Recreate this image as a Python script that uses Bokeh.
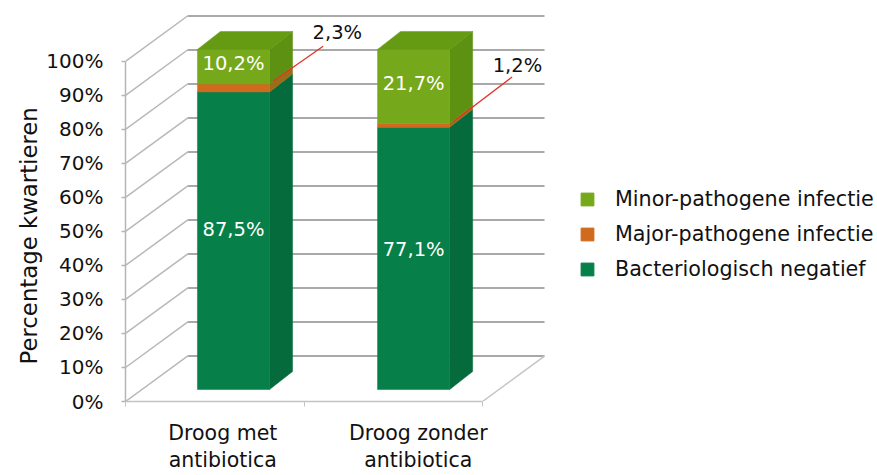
from bokeh.embed import file_html
from bokeh.resources import INLINE
from bokeh.plotting import figure
from bokeh.models import ColumnDataSource, FixedTicker, Legend, LegendItem, Range1d, Title
from bokeh.core.properties import value

FONT = "DejaVu Sans"
categories = ["Droog met\nantibiotica", "Droog zonder\nantibiotica"]
negatief = [87.5, 77.1]
major = [2.3, 1.2]
minor = [10.2, 21.7]
y_ticks = list(range(0, 101, 10))
series_names = ["Minor-pathogene infectie", "Major-pathogene infectie", "Bacteriologisch negatief"]
y_title = "Percentage kwartieren"

FRONT = {"neg": "#067f49", "maj": "#d06a1e", "min": "#75a81b"}
SIDE = {"neg": "#056b3c", "maj": "#9a6e16", "min": "#5c9112"}
TOP = "#659b13"
GRID = "#a9a9a9"

PX_X, PX_Y = 178.5, 3.41
LEFT, TOP_PX, BOTTOM = 125, 10, 402
W, H = 877, 475
DX, DY = 62 / PX_X, 45.5 / PX_Y
BAR_X = [0.403, 1.412]
BAR_W = 0.404
BAR_DX, BAR_DY = 23 / PX_X, 18 / PX_Y
BASE = 12 / PX_Y

p = figure(width=W, height=H, output_backend="svg", toolbar_location=None,
           x_range=Range1d(0, (W - LEFT) / PX_X), y_range=Range1d(0, (BOTTOM - TOP_PX) / PX_Y),
           min_border_left=LEFT, min_border_right=0, min_border_top=TOP_PX,
           min_border_bottom=H - BOTTOM, outline_line_color=None, background_fill_color="#ffffff")
p.grid.visible = False

# y axis
ya = p.yaxis[0]
ya.bounds = (0, 100)
ya.ticker = FixedTicker(ticks=y_ticks)
ya.major_label_overrides = {t: f"{t}%" for t in y_ticks}
ya.axis_line_color = "#b5b5b5"; ya.major_tick_line_color = "#b5b5b5"
ya.axis_line_width = 1.5; ya.major_tick_line_width = 1.5
ya.major_tick_in = 0; ya.major_tick_out = 4; ya.minor_tick_out = 0; ya.minor_tick_in = 0
ya.major_label_text_font = FONT; ya.major_label_text_font_size = "20px"
ya.major_label_text_color = "#111111"; ya.major_label_standoff = 18

# y title placed along the lower part of the axis, as in the reference
p.add_layout(Title(text=y_title, align="left", offset=37, standoff=4, text_font=FONT,
                   text_font_size="22.8px", text_font_style="normal", text_color="#111111"), "left")

# x axis
xa = p.xaxis[0]
xa.bounds = (0, 2)
label_pos = [0.545, 1.64]
xa.ticker = FixedTicker(ticks=label_pos, minor_ticks=[0, 1, 2])
xa.major_label_overrides = dict(zip(label_pos, categories))
xa.axis_line_color = "#c4c4c4"; xa.axis_line_width = 1.5
xa.major_tick_out = 0; xa.major_tick_in = 0
xa.minor_tick_out = 5; xa.minor_tick_in = 0; xa.minor_tick_line_color = "#c4c4c4"
xa.major_label_text_font = FONT; xa.major_label_text_font_size = "20.5px"
xa.major_label_text_line_height = 1.15
xa.major_label_text_color = "#111111"; xa.major_label_standoff = 14

# walls and floor
back = [t for t in y_ticks]
p.segment(x0=[0] * len(back), y0=back, x1=[DX] * len(back), y1=[t + DY for t in back],
          line_color="#b8b8b8", line_width=1.5)
p.segment(x0=[DX] * len(back), y0=[t + DY for t in back], x1=[2 + DX] * len(back), y1=[t + DY for t in back],
          line_color=GRID, line_width=2)
p.segment(x0=[2], y0=[0], x1=[2 + DX], y1=[DY], line_color="#c4c4c4", line_width=1.5)

# bars
for i, x0 in enumerate(BAR_X):
    bottom = BASE
    x1 = x0 + BAR_W
    for key, v in (("neg", negatief[i]), ("maj", major[i]), ("min", minor[i])):
        top = bottom + v
        p.patch([x1, x1 + BAR_DX, x1 + BAR_DX, x1], [bottom, bottom + BAR_DY, top + BAR_DY, top],
                fill_color=SIDE[key], line_color=SIDE[key], line_width=0.5)
        p.quad(left=[x0], right=[x1], bottom=[bottom], top=[top], fill_color=FRONT[key], line_color=FRONT[key], line_width=0.5)
        bottom = top
    p.patch([x0, x1, x1 + BAR_DX, x0 + BAR_DX], [bottom, bottom, bottom + BAR_DY, bottom + BAR_DY],
            fill_color=TOP, line_color=TOP, line_width=0.5)

# value labels
centers = [x + BAR_W / 2 for x in BAR_X]
lab = dict(text_font=value(FONT), text_font_size="19.5px", text_align="center", text_baseline="middle")
p.text(x=centers, y=[BASE + v / 2 for v in negatief], text=[f"{v}%".replace(".", ",") for v in negatief],
       text_color="#ffffff", y_offset=[-11, -9], **lab)
p.text(x=centers, y=[BASE + n + m + v / 2 for n, m, v in zip(negatief, major, minor)],
       text=[f"{v}%".replace(".", ",") for v in minor], text_color="#ffffff", y_offset=-3, **lab)

# leaders for the small series
starts_x = [x + BAR_W + 0.02 for x in BAR_X]
starts_y = [BASE + n + m / 2 + d for n, m, d in zip(negatief, major, [2, 1])]
ends_x = [starts_x[0] + 0.28, starts_x[1] + 0.33]
ends_y = [starts_y[0] + 10.3, starts_y[1] + 13.2]
p.segment(x0=starts_x, y0=starts_y, x1=ends_x, y1=ends_y, line_color="#e2352b", line_width=1.3)
p.text(x=[ends_x[0] + 0.08, ends_x[1] + 0.03], y=ends_y, text=[f"{v}%".replace(".", ",") for v in major],
       text_color="#111111", y_offset=[-14, -11], **lab)

# legend
src = ColumnDataSource(dict(x=[float("nan")], y=[float("nan")]))
r_min = p.scatter("x", "y", source=src, marker="square", size=13, fill_color=FRONT["min"], line_color=FRONT["min"])
r_maj = p.scatter("x", "y", source=src, marker="square", size=13, fill_color=FRONT["maj"], line_color=FRONT["maj"])
r_neg = p.scatter("x", "y", source=src, marker="square", size=13, fill_color=FRONT["neg"], line_color=FRONT["neg"])
legend = Legend(items=[LegendItem(label=n, renderers=[r]) for n, r in zip(series_names, [r_min, r_maj, r_neg])],
                location=(446, 116), border_line_color=None, background_fill_alpha=0,
                label_text_font=FONT, label_text_font_size="20.7px", label_text_color="#111111",
                glyph_width=32, glyph_height=32, label_standoff=12, spacing=3, padding=0, margin=0,
                label_height=26)
p.add_layout(legend, "center")

open("out.html", "w").write(file_html(p, INLINE))
